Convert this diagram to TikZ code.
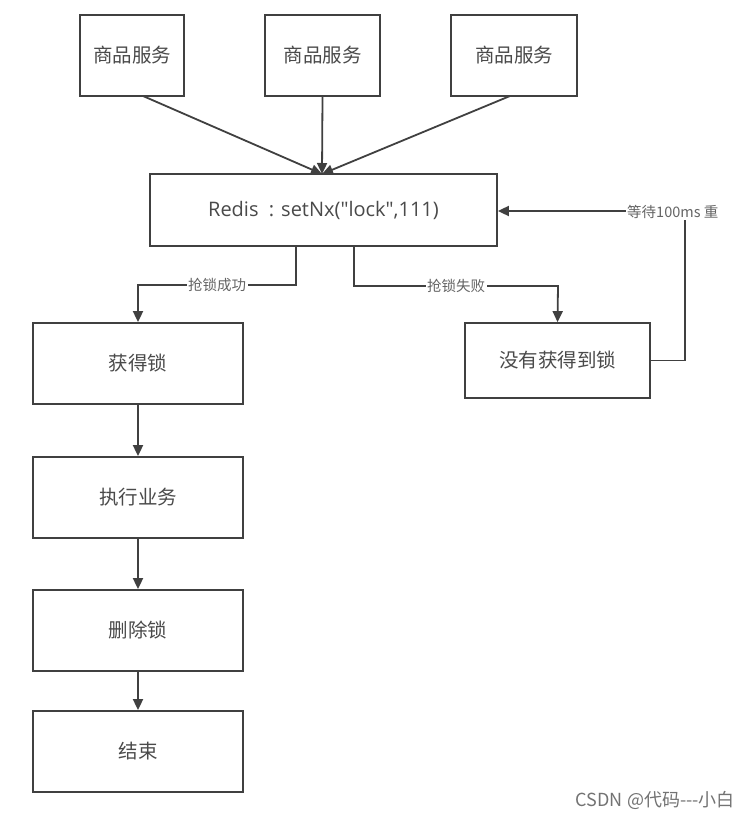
\documentclass[tikz,border=0pt]{standalone}
\usepackage{fontspec}
\setmainfont{Noto Sans CJK SC}
\newfontfamily\latinf{Open Sans}
\usetikzlibrary{arrows.meta}
\definecolor{ln}{HTML}{404040}
\definecolor{tx}{HTML}{4a4a4a}
\tikzset{
  box/.style={draw=ln, line width=1.8pt, fill=white, text=tx, font=\fontsize{19.5}{22}\selectfont, inner sep=0pt},
  conn/.style={draw=ln, line width=1.8pt, -{Triangle[length=11pt,width=10pt]}},
  lbl/.style={fill=white, text=tx!85, font=\fontsize{14.5}{16}\selectfont, inner sep=1.5pt}
}
\begin{document}
\begin{tikzpicture}[x=1pt,y=-1pt]
\useasboundingbox (0,0) rectangle (747,818);
\fill[white] (0,0) rectangle (747,818);
% top boxes
\node[box, minimum width=104pt, minimum height=81pt] (s1) at (132,55.5) {商品服务};
\node[box, minimum width=115pt, minimum height=81pt] (s2) at (322.5,55.5) {商品服务};
\node[box, minimum width=126pt, minimum height=81pt] (s3) at (514,55.5) {商品服务};
% redis
\node[box, minimum width=347pt, minimum height=72pt, font=\latinf\fontsize{20}{22}\selectfont] (r) at (323.5,210) {Redis\ \ : setNx(\symbol{"22}lock\symbol{"22},111)};
% left column
\node[box, minimum width=210pt, minimum height=81pt] (g) at (138,363.5) {获得锁};
\node[box, minimum width=210pt, minimum height=81pt] (e) at (138,497.5) {执行业务};
\node[box, minimum width=210pt, minimum height=81pt] (d) at (138,630.5) {删除锁};
\node[box, minimum width=210pt, minimum height=81pt] (f) at (138,751.5) {结束};
% fail box
\node[box, minimum width=185pt, minimum height=75pt] (n) at (557.5,360.5) {没有获得到锁};
% top arrows
\coordinate (rt) at (322,174);
\draw[conn] (143,96) -- (rt);
\draw[conn] (s2.south) -- (rt);
\draw[conn] (510,96) -- (rt);
% success
\draw[conn] (296,247) -- (296,285) -- node[lbl, pos=0.5]{抢锁成功} (138,285) -- (g.north);
% fail
\draw[conn] (354,247) -- (354,286) -- node[lbl, pos=0.5]{抢锁失败} (558,286) -- (n.north);
% retry
\coordinate (c1) at (685,360.5);
\coordinate (c2) at (685,211);
\draw[conn] (n.east) -- (c1) -- (c2) -- (r.east |- c2);
\begin{scope}
\clip (600,195) rectangle (717,230);
\node[lbl, anchor=west, inner sep=1pt] (rl) at (626,212) {等待100ms 重试};
\end{scope}
% vertical chain
\draw[conn] (g.south) -- (e.north);
\draw[conn] (e.south) -- (d.north);
\draw[conn] (d.south) -- (f.north);
% watermark
\node[anchor=east, text=black!55, font=\fontsize{18}{20}\selectfont, inner sep=0pt] (wm) at (735,800) {CSDN @代码{-}{-}{-}小白};
\end{tikzpicture}
\end{document}
